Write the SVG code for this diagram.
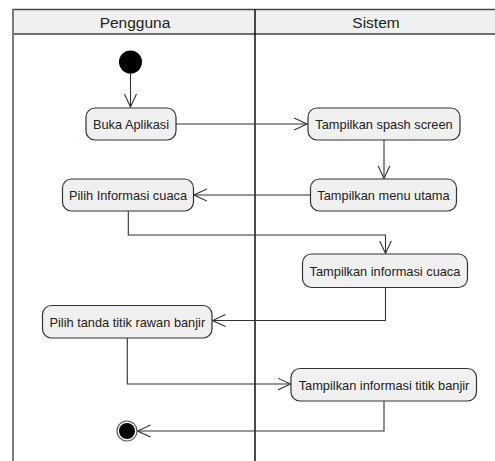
<svg xmlns="http://www.w3.org/2000/svg" width="495" height="461" viewBox="0 0 495 461">
<defs>
<style>
.lane{fill:none;stroke:#7a7a7a;stroke-width:2}
.hdr{fill:#f0f0f0;stroke:#444;stroke-width:1.5}
.div{stroke:#111;stroke-width:1.5}
.node rect{fill:#f0f0f0;stroke:#333;stroke-width:1.2}
.node text{font-family:"Liberation Sans",Arial,sans-serif;font-size:12.8px;fill:#222;text-anchor:middle}
.htext{font-family:"Liberation Sans",Arial,sans-serif;font-size:15.5px;fill:#222;text-anchor:middle}
.edge{fill:none;stroke:#333;stroke-width:1.1}
</style>
<marker id="arr" viewBox="0 0 14 14" refX="13" refY="7" markerWidth="14" markerHeight="14" markerUnits="userSpaceOnUse" orient="auto">
<path d="M0,1 L13,7 L0,13" fill="none" stroke="#333" stroke-width="1.1"/>
</marker>
</defs>
<rect width="495" height="461" fill="#fff"/>
<g id="lanes">
<rect class="hdr" x="13" y="9.5" width="490" height="24.5"/>
<line class="lane" x1="13" y1="9.5" x2="13" y2="461"/>
<line class="div" x1="255" y1="9.5" x2="255" y2="461"/>
<text class="htext" x="135" y="27.5">Pengguna</text>
<text class="htext" x="376" y="27.5">Sistem</text>
</g>
<g id="connectors">
<path class="edge" d="M130.5,72 V107" marker-end="url(#arr)"/>
<path class="edge" d="M176,124 H307" marker-end="url(#arr)"/>
<path class="edge" d="M384,140 V178.5" marker-end="url(#arr)"/>
<path class="edge" d="M310.5,195 H194" marker-end="url(#arr)"/>
<path class="edge" d="M128.3,211 V235 H385.5 V253.5" marker-end="url(#arr)"/>
<path class="edge" d="M385.5,287.5 V320.5 H212.5" marker-end="url(#arr)"/>
<path class="edge" d="M127.3,338 V384 H290.5" marker-end="url(#arr)"/>
<path class="edge" d="M384,401 V431 H137.5" marker-end="url(#arr)"/>
</g>
<g id="start">
<circle cx="130.5" cy="62" r="11.5" fill="#000"/>
</g>
<g id="buka" class="node">
<rect x="86" y="108" width="90" height="32" rx="9"/>
<text x="131" y="128.5">Buka Aplikasi</text>
</g>
<g id="splash" class="node">
<rect x="308" y="108" width="152" height="32" rx="9"/>
<text x="384" y="128.5">Tampilkan spash screen</text>
</g>
<g id="menu" class="node">
<rect x="310.5" y="179" width="146" height="32" rx="9"/>
<text x="383.5" y="199.5">Tampilkan menu utama</text>
</g>
<g id="pilihcuaca" class="node">
<rect x="62.5" y="179" width="131" height="32" rx="9"/>
<text x="128" y="199.5">Pilih Informasi cuaca</text>
</g>
<g id="infocuaca" class="node">
<rect x="302.5" y="254" width="165" height="33.5" rx="9"/>
<text x="385" y="275.5">Tampilkan informasi cuaca</text>
</g>
<g id="pilihbanjir" class="node">
<rect x="42.5" y="305.5" width="169.5" height="32.5" rx="9"/>
<text x="127.3" y="326.5">Pilih tanda titik rawan banjir</text>
</g>
<g id="infobanjir" class="node">
<rect x="291" y="368.5" width="185.5" height="32.5" rx="9"/>
<text x="384" y="389.5">Tampilkan informasi titik banjir</text>
</g>
<g id="end">
<circle cx="127" cy="431" r="10" fill="#fff" stroke="#555" stroke-width="1.2"/>
<circle cx="127" cy="431" r="8" fill="#000"/>
</g>
</svg>
